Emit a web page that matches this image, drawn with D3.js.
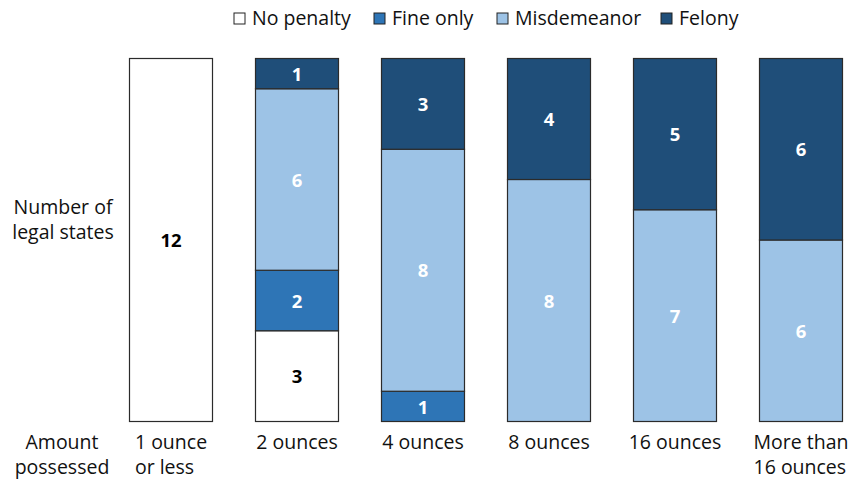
<!DOCTYPE html>
<html>
<head>
<meta charset="utf-8">
<script src="https://cdn.jsdelivr.net/npm/d3@7"></script>
<style>
  body { margin: 0; background: #fff; }
  text { font-family: "Open Sans", "Noto Sans", sans-serif; fill: #111; }
</style>
</head>
<body>
<div id="chart"></div>
<script>
// Categories (each line of a label is one entry)
var categories = ["1 ounce or less", "2 ounces", "4 ounces", "8 ounces", "16 ounces", "More than 16 ounces"];
var categoryLines = [["1 ounce", "or less"], ["2 ounces"], ["4 ounces"], ["8 ounces"], ["16 ounces"], ["More than", "16 ounces"]];

// Series, bottom to top
var seriesNames = ["No penalty", "Fine only", "Misdemeanor", "Felony"];
var noPenalty   = [12, 3, 0, 0, 0, 0];
var fineOnly    = [0, 2, 1, 0, 0, 0];
var misdemeanor = [0, 6, 8, 8, 7, 6];
var felony      = [0, 1, 3, 4, 5, 6];

var colors = ["#ffffff", "#2e75b6", "#9dc3e6", "#1f4e79"];
var labelColors = ["#000", "#fff", "#fff", "#fff"];

var width = 854, height = 480;
var fontSize = "19.5px";

var svg = d3.select("#chart").append("svg")
	.attr("width", width)
	.attr("height", height);

var x = d3.scaleBand()
	.domain(categories)
	.range([108, 864])
	.paddingInner(1 / 3)
	.paddingOuter(1 / 6);

var y = d3.scaleLinear()
	.domain([0, 12])
	.range([421, 58]);

// build table for stacking
var table = categories.map(function(c, i) {
	return { cat: c, "No penalty": noPenalty[i], "Fine only": fineOnly[i], "Misdemeanor": misdemeanor[i], "Felony": felony[i] };
});
var stacked = d3.stack().keys(seriesNames)(table);

var layers = svg.selectAll("g.layer")
	.data(stacked)
	.enter().append("g")
	.attr("class", "layer");

layers.each(function(layer, li) {
	var g = d3.select(this);
	var segs = layer.filter(function(d) { return d[1] - d[0] > 0; });
	g.selectAll("rect")
		.data(segs)
		.enter().append("rect")
		.attr("x", function(d) { return x(d.data.cat) + 0.5; })
		.attr("y", function(d) { return y(d[1]) + 0.5; })
		.attr("width", x.bandwidth() - 1)
		.attr("height", function(d) { return y(d[0]) - y(d[1]); })
		.attr("fill", colors[li])
		.attr("stroke", "#2b2b2b")
		.attr("stroke-width", 1.2);
	g.selectAll("text")
		.data(segs)
		.enter().append("text")
		.attr("x", function(d) { return x(d.data.cat) + x.bandwidth() / 2; })
		.attr("y", function(d) { return (y(d[0]) + y(d[1])) / 2 + 1; })
		.attr("dy", "0.36em")
		.attr("text-anchor", "middle")
		.style("font-size", "18.5px")
		.style("font-weight", "bold")
		.style("fill", labelColors[li])
		.text(function(d) { return d[1] - d[0]; });
});

// Category labels: block centred under bar, lines left aligned
categories.forEach(function(c, i) {
	var t = svg.append("text")
		.style("font-size", fontSize);
	categoryLines[i].forEach(function(line, k) {
		t.append("tspan")
			.attr("y", 449 + k * 25)
			.text(line);
	});
	var w = d3.max(t.selectAll("tspan").nodes(), function(n) { return n.getComputedTextLength(); });
	var left = x(c) + x.bandwidth() / 2 - w / 2;
	t.selectAll("tspan").attr("x", left);
});

// Axis titles
function title(lines, cx, y0) {
	var t = svg.append("text")
		.attr("text-anchor", "middle")
		.style("font-size", fontSize);
	lines.forEach(function(line, k) {
		t.append("tspan").attr("x", cx).attr("y", y0 + k * 25).text(line);
	});
}
title(["Number of", "legal states"], 63, 214);
title(["Amount", "possessed"], 62, 449);

// Legend
var legendX = [234, 374, 497, 661];
var legend = svg.selectAll("g.legend")
	.data(seriesNames)
	.enter().append("g")
	.attr("class", "legend")
	.attr("transform", function(d, i) { return "translate(" + legendX[i] + ",13)"; });
legend.append("rect")
	.attr("width", 11)
	.attr("height", 11)
	.attr("fill", function(d, i) { return colors[i]; })
	.attr("stroke", "#222")
	.attr("stroke-width", 1);
legend.append("text")
	.attr("x", 18)
	.attr("y", 12)
	.style("font-size", fontSize)
	.text(function(d) { return d; });
</script>
</body>
</html>
